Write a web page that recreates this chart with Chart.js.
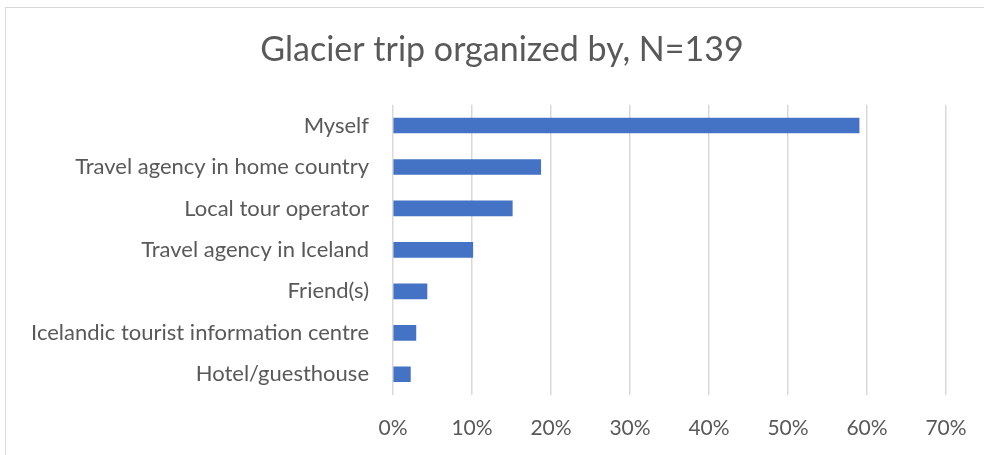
<!DOCTYPE html>
<html>
<head>
<meta charset="utf-8">
<script src="https://cdn.jsdelivr.net/npm/chart.js@4/dist/chart.umd.min.js"></script>
<style>
  html, body { margin: 0; padding: 0; overflow: hidden; background: #fff; }
  #box { position: absolute; left: 5px; top: 7px; width: 992px; height: 460px; border: 1px solid #d9d9d9; }
  #box canvas { display: block; }
</style>
</head>
<body>
<div id="box"><canvas id="tripChart" width="992" height="447"></canvas></div>
<script>
const categories = ['Myself', 'Travel agency in home country', 'Local tour operator', 'Travel agency in Iceland', 'Friend(s)', 'Icelandic tourist information centre', 'Hotel/guesthouse'];
const shares = [59.0, 18.7, 15.1, 10.1, 4.3, 2.9, 2.2];
const xTicks = [0, 10, 20, 30, 40, 50, 60, 70];

const fontFamily = 'Lato, "Open Sans", sans-serif';
const textColor = '#595959';

// long labels run into the left padding, so widen the label clip box
const unclipLabels = {
  id: 'unclipLabels',
  afterLayout: function(chart) { chart.scales.y.left = 0; }
};

const ctx = document.getElementById('tripChart').getContext('2d');
new Chart(ctx, {
  type: 'bar',
  data: {
    labels: categories,
    datasets: [{
      data: shares,
      backgroundColor: '#4472C4',
      borderWidth: 0,
      barThickness: 15
    }]
  },
  options: {
    indexAxis: 'y',
    responsive: false,
    animation: false,
    // left/right padding balanced so the title sits centred like the original
    layout: { padding: { left: 52, right: 52, top: 0, bottom: 0 } },
    plugins: {
      legend: { display: false },
      tooltip: { enabled: false },
      title: {
        display: true,
        text: 'Glacier trip organized by, N=139',
        color: textColor,
        font: { family: fontFamily, size: 34, weight: 'normal' },
        padding: { top: 22, bottom: 34 }
      }
    },
    scales: {
      x: {
        min: 0,
        max: 70,
        afterBuildTicks: function(scale) {
          scale.ticks = xTicks.map(v => ({ value: v }));
        },
        afterFit: function(scale) { scale.height = 60; },
        grid: { color: '#d9d9d9', lineWidth: 1.5, drawTicks: false },
        border: { display: false },
        ticks: {
          color: textColor,
          font: { family: fontFamily, size: 21 },
          padding: 21,
          callback: v => v + '%'
        }
      },
      y: {
        afterFit: function(scale) { scale.width = 335; },
        grid: { display: false },
        border: { display: false },
        ticks: {
          color: textColor,
          font: { family: fontFamily, size: 22 },
          padding: 16
        }
      }
    }
  },
  plugins: [unclipLabels]
});
</script>
</body>
</html>
